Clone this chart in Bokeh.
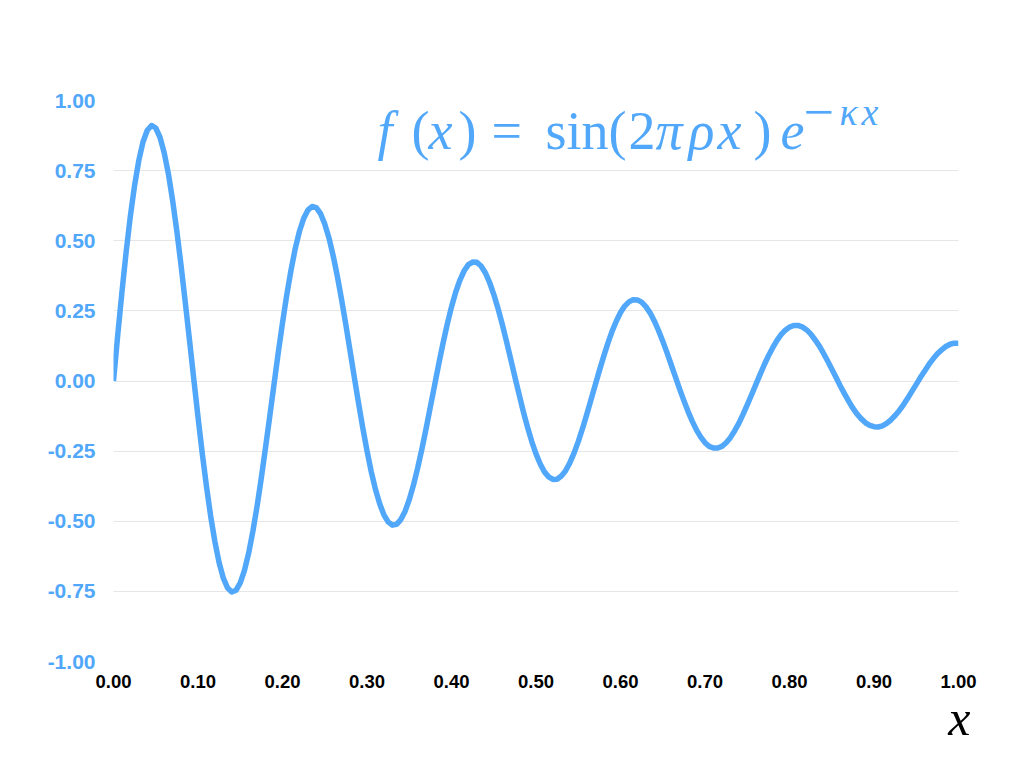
from bokeh.plotting import figure
from bokeh.models import Label, FixedTicker, Range1d, Title
from bokeh.embed import file_html
from bokeh.resources import INLINE

# ---- data (x step 0.005) ----
x_values = [i / 200 for i in range(201)]
y_values = [
    0.000, 0.163, 0.317, 0.461, 0.589, 0.698, 0.787, 0.853, 0.894, 0.911,
    0.902, 0.869, 0.814, 0.738, 0.643, 0.533, 0.411, 0.279, 0.144, 0.007,
    -0.128, -0.257, -0.375, -0.482, -0.573, -0.648, -0.703, -0.738, -0.752, -0.746,
    -0.720, -0.675, -0.613, -0.535, -0.445, -0.344, -0.236, -0.124, -0.011, 0.101,
    0.207, 0.306, 0.394, 0.471, 0.533, 0.579, 0.609, 0.622, 0.618, 0.597,
    0.560, 0.510, 0.446, 0.372, 0.289, 0.200, 0.107, 0.013, -0.079, -0.167,
    -0.249, -0.323, -0.386, -0.438, -0.477, -0.502, -0.514, -0.511, -0.494, -0.465,
    -0.423, -0.371, -0.310, -0.242, -0.169, -0.092, -0.015, 0.062, 0.135, 0.203,
    0.264, 0.317, 0.360, 0.393, 0.415, 0.424, 0.423, 0.410, 0.386, 0.352,
    0.309, 0.259, 0.203, 0.142, 0.079, 0.015, -0.048, -0.109, -0.165, -0.216,
    -0.260, -0.296, -0.324, -0.342, -0.351, -0.350, -0.339, -0.320, -0.292, -0.257,
    -0.216, -0.170, -0.120, -0.068, -0.015, 0.037, 0.087, 0.134, 0.177, 0.213,
    0.244, 0.267, 0.282, 0.290, 0.289, 0.281, 0.265, 0.243, 0.214, 0.180,
    0.142, 0.101, 0.058, 0.015, -0.029, -0.070, -0.109, -0.144, -0.175, -0.200,
    -0.220, -0.233, -0.239, -0.239, -0.233, -0.220, -0.202, -0.178, -0.151, -0.119,
    -0.085, -0.050, -0.014, 0.022, 0.057, 0.089, 0.118, 0.144, 0.165, 0.181,
    0.192, 0.198, 0.198, 0.193, 0.183, 0.168, 0.148, 0.126, 0.100, 0.072,
    0.043, 0.013, -0.017, -0.045, -0.072, -0.097, -0.118, -0.135, -0.149, -0.158,
    -0.163, -0.164, -0.160, -0.151, -0.139, -0.123, -0.105, -0.084, -0.061, -0.036,
    -0.012, 0.013, 0.036, 0.059, 0.079, 0.097, 0.111, 0.123, 0.131, 0.135,
    0.135,
]
x_ticks = [0.0, 0.1, 0.2, 0.3, 0.4, 0.5, 0.6, 0.7, 0.8, 0.9, 1.0]
x_tick_labels = ["0.00", "0.10", "0.20", "0.30", "0.40", "0.50",
                 "0.60", "0.70", "0.80", "0.90", "1.00"]
y_ticks = [-1.0, -0.75, -0.5, -0.25, 0.0, 0.25, 0.5, 0.75, 1.0]
y_tick_labels = ["-1.00", "-0.75", "-0.50", "-0.25", "0.00",
                 "0.25", "0.50", "0.75", "1.00"]
x_axis_title = "x"

BLUE = "#51a7f9"

p = figure(width=1008, height=752, output_backend="svg", toolbar_location=None,
           x_range=Range1d(0, 1), y_range=Range1d(-1, 1),
           min_border_left=113, min_border_right=50,
           min_border_top=100, min_border_bottom=91)
p.outline_line_color = None
p.background_fill_color = "white"
p.border_fill_color = "white"

p.xgrid.visible = False
p.ygrid.grid_line_color = "#e6e6e6"
p.ygrid.grid_line_width = 1

for ax in (p.xaxis[0], p.yaxis[0]):
    ax.axis_line_color = None
    ax.major_tick_line_color = None
    ax.minor_tick_line_color = None
    ax.major_label_text_font = "Liberation Sans"
    ax.major_label_text_font_style = "bold"

p.xaxis.ticker = FixedTicker(ticks=x_ticks)
p.xaxis.major_label_overrides = {t: s for t, s in zip(x_ticks, x_tick_labels)}
p.xaxis.major_label_text_color = "black"
p.xaxis.major_label_text_font_size = "18.5px"
p.xaxis.major_label_standoff = 7

p.yaxis.ticker = FixedTicker(ticks=y_ticks)
p.yaxis.major_label_overrides = {t: s for t, s in zip(y_ticks, y_tick_labels)}
p.yaxis.major_label_text_color = BLUE
p.yaxis.major_label_text_font_size = "21px"
p.yaxis.major_label_standoff = 12

p.line(x_values, y_values, line_width=5.5, line_color=BLUE,
       line_join="round", line_cap="butt")

# ---- formula, built from pieces ----
def px2x(px):
    return (px - 113) / 845.0

def py2y(py):
    return (380 - py) / 280.5

pieces = [
    ("f", 377, "italic", 54, 130), ("(", 411, "normal", 54, 130),
    ("x", 428, "italic", 54, 130), (")", 458, "normal", 54, 130),
    ("=", 491, "normal", 54, 130), ("sin", 545, "normal", 54, 130),
    ("(", 608, "normal", 54, 130), ("2", 628, "normal", 54, 130),
    ("π", 655, "italic", 54, 130), ("ρ", 688, "italic", 54, 130),
    ("x", 717, "italic", 54, 130), (")", 753, "normal", 54, 130),
    ("e", 780, "italic", 54, 130),
    ("−", 803, "normal", 54, 111), ("κ", 839, "italic", 38, 111),
    ("x", 861, "italic", 38, 111),
]
for txt, px, style, size, py in pieces:
    p.add_layout(Label(x=px2x(px), y=py2y(py), text=txt,
                       text_font="Liberation Serif", text_font_style=style,
                       text_font_size=f"{size}px", text_color=BLUE,
                       text_align="left", text_baseline="alphabetic"))

# x axis title at the right end, below the tick labels
p.add_layout(Title(text=x_axis_title, align="right", offset=-12, standoff=-6,
                   text_font="Liberation Serif", text_font_style="italic",
                   text_font_size="50px", text_color="black"), "below")

open("out.html", "w").write(file_html(p, INLINE))
